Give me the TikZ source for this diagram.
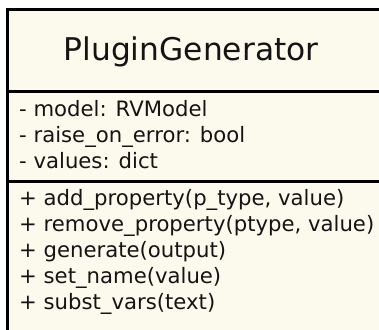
\documentclass[tikz,border=0pt]{standalone}
\usepackage{fontspec}
\setmainfont{DejaVu Sans}
\definecolor{classfill}{RGB}{252,249,237}
\definecolor{classtext}{RGB}{20,20,20}
\begin{document}
\begin{tikzpicture}[x=1pt,y=1pt,
  titletext/.style={anchor=base west,inner sep=0pt,text=classtext,font=\fontsize{31.3}{37}\selectfont},
  membertext/.style={anchor=base west,inner sep=0pt,text=classtext,font=\fontsize{21.2}{25}\selectfont},
  border/.style={draw=black,line width=3pt}]
\useasboundingbox (0,0) rectangle (379,-329);
% class box, running past the right and bottom edges
\fill[classfill] (7.5,-9.7) rectangle (400,-350);
\draw[border] (400,-9.7) -- (7.5,-9.7) -- (7.5,-350);
\coordinate (sepA) at (7.5,-91.3);
\coordinate (sepB) at (7.5,-181);
\draw[border] (sepA) -- ++(400,0);
\draw[border] (sepB) -- ++(400,0);
% class name
\node[titletext] (title) at (63.5,-60.7) {PluginGenerator};
% attributes
\node[membertext] (attr1) at (19,-116.7) {- model: RVModel};
\node[membertext] (attr2) at (19,-142.7) {- raise\_on\_error: bool};
\node[membertext] (attr3) at (19,-168.7) {- values: dict};
% operations
\node[membertext] (op1) at (19,-205) {+ add\_property(p\_type, value)};
\node[membertext] (op2) at (19,-231) {+ remove\_property(ptype, value)};
\node[membertext] (op3) at (19,-257) {+ generate(output)};
\node[membertext] (op4) at (19,-283) {+ set\_name(value)};
\node[membertext] (op5) at (19,-309) {+ subst\_vars(text)};
\end{tikzpicture}
\end{document}
